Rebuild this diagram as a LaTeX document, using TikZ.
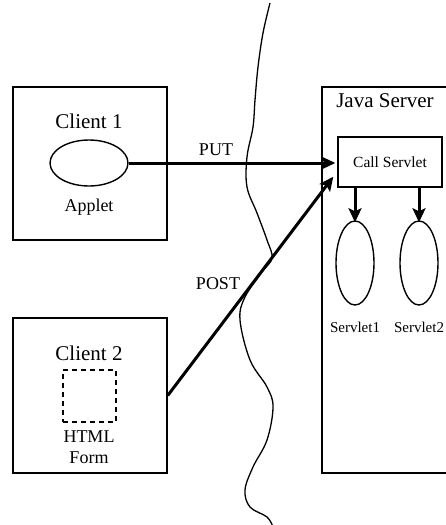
\documentclass[tikz,border=0pt]{standalone}
\usepackage{fontspec}
\setmainfont{Liberation Serif}
\usetikzlibrary{arrows.meta,calc,shapes.geometric}

\tikzset{
  box/.style={draw, line width=1.5pt, inner sep=0pt},
  blob/.style={draw, ellipse, line width=1.4pt, inner sep=0pt},
  flow/.style={line width=3pt, -{Stealth[length=14pt,width=13pt,inset=3pt]}},
  lbl/.style={inner sep=0pt, anchor=center},
}

\begin{document}
\begin{tikzpicture}[x=1pt,y=-1pt]
\useasboundingbox (0,0) rectangle (446,525);
\clip (0,0) rectangle (446,525);

% network boundary
\draw[line width=1.3pt] plot[smooth, tension=0.6] coordinates {
  (270,3) (263,33) (258,67) (255,100) (253,127) (247,157) (247,187)
  (257,213) (267,240) (272,258) (262,272) (245,297) (240,320) (250,360)
  (267,387) (273,407) (267,440) (253,467) (245,490) (250,507) (267,517) (273,527)};

% client 1
\node[box, minimum width=154pt, minimum height=153pt] (c1) at (90,163.5) {};
\node[lbl, font=\fontsize{21}{24}\selectfont] (c1t) at (89,121) {Client 1};
\node[blob, minimum width=78pt, minimum height=46pt] (app) at (89,163) {};
\node[lbl, font=\fontsize{18}{21}\selectfont] (appt) at (89,207) {Applet};

% client 2
\node[box, minimum width=154pt, minimum height=155pt] (c2) at (90,395.5) {};
\node[lbl, font=\fontsize{21}{24}\selectfont] (c2t) at (89,353) {Client 2};
\node[draw, dashed, dash pattern=on 5pt off 4pt, line width=1.6pt,
      minimum width=53pt, minimum height=52pt, inner sep=0pt] (form) at (89.5,396) {};
\node[lbl, font=\fontsize{18}{21}\selectfont, align=center] (formt) at (89,447.5) {HTML\\Form};

% java server
\node[box, minimum width=160pt, minimum height=386pt] (srv) at (402,280) {};
\node[lbl, font=\fontsize{21}{24}\selectfont] (srvt) at (385,101) {Java Server};
\node[box, minimum width=104pt, minimum height=50pt, font=\fontsize{15.5}{18}\selectfont] (call) at (390,162) {Call Servlet};
\node[blob, minimum width=38pt, minimum height=84pt] (s1) at (355,263) {};
\node[blob, minimum width=38pt, minimum height=84pt] (s2) at (419,263) {};
\node[lbl, font=\fontsize{15}{18}\selectfont] (s1t) at (355,327) {Servlet1};
\node[lbl, font=\fontsize{15}{18}\selectfont] (s2t) at (419,327) {Servlet2};

% requests
\draw[flow, shorten >=2pt] (app.east) -- (app.east -| call.west);
\node[lbl, font=\fontsize{18}{21}\selectfont] (put) at (216,150) {PUT};
\draw[flow] (c2.east) -- ($(call.south west)+(-4,-11)$);
\node[lbl, font=\fontsize{18}{21}\selectfont] (post) at (218,284) {POST};

% dispatch
\draw[flow] (s1 |- call.south) -- ([yshift=-2pt]s1.north);
\draw[flow] (s2 |- call.south) -- ([yshift=-2pt]s2.north);
\end{tikzpicture}
\end{document}
